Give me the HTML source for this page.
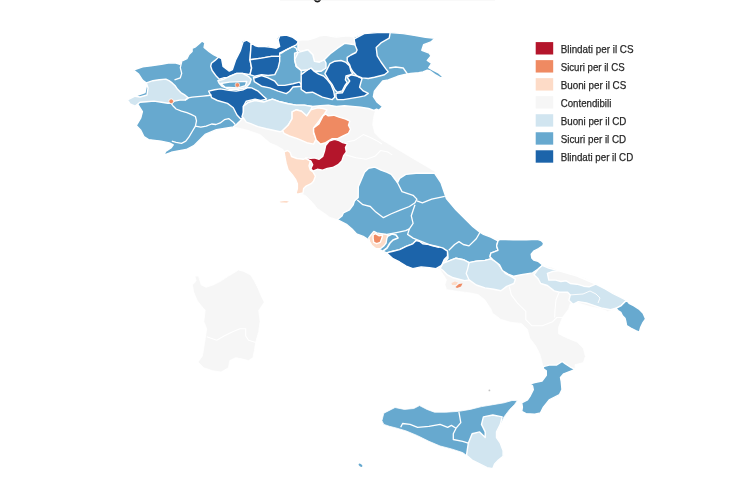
<!DOCTYPE html>
<html><head><meta charset="utf-8"><style>
html,body{margin:0;padding:0;background:#fff;width:745px;height:484px;overflow:hidden;position:relative}
svg{position:absolute;left:0;top:0;filter:blur(0.5px)}
text{font-family:"Liberation Sans",sans-serif;font-size:11.2px;fill:#262626;stroke:#262626;stroke-width:0.25px}
</style></head><body>
<svg width="745" height="484" viewBox="0 0 745 484">
<path d="M314.2,-0.8 Q317.4,4.2 320.6,-0.8" fill="none" stroke="#1a1a1a" stroke-width="1.8"/>
<rect x="280" y="0" width="215" height="1" fill="#e8e8e8" opacity="0.25"/>
<path d="M161.0,141.1 L148.6,139.6 L143.9,136.5 L140.8,130.3 L136.2,125.6 L140.8,117.9 L142.4,111.7 L137.7,104.0 L135.0,106.2 L130.0,103.8 L127.5,100.0 L135.0,96.2 L145.0,92.5 L146.9,83.4 L142.7,80.3 L138.6,74.1 L133.4,70.0 L142.7,66.9 L151.0,65.8 L161.3,64.4 L169.6,62.7 L175.8,63.1 L180.0,64.4 L180.7,61.7 L186.9,58.6 L189.0,54.4 L192.1,51.4 L192.1,48.3 L195.0,47.2 L199.1,43.7 L202.0,40.9 L204.9,43.0 L204.1,47.4 L209.2,51.7 L213.5,54.6 L218.5,57.2 L221.6,58.7 L223.1,66.5 L229.3,71.1 L232.4,69.6 L235.5,60.3 L240.2,51.0 L241.9,40.5 L245.0,39.7 L248.0,43.6 L252.7,46.7 L258.9,47.5 L268.2,45.2 L274.4,49.8 L280.6,49.0 L280.6,43.6 L276.7,39.0 L279.0,35.0 L282.7,35.1 L288.1,36.4 L293.4,38.4 L298.1,40.4 L302.8,39.8 L308.2,39.8 L313.6,38.4 L320.3,35.7 L325.6,35.1 L331.0,36.4 L336.4,37.1 L343.1,36.4 L348.5,35.7 L353.9,37.1 L364.2,33.6 L377.2,32.6 L390.2,32.6 L403.2,33.6 L414.3,35.4 L425.5,37.3 L434.8,38.2 L431.0,41.9 L423.6,44.7 L421.8,50.3 L429.2,53.1 L431.0,55.9 L427.3,60.5 L431.7,63.4 L428.8,67.7 L433.1,70.2 L438.9,73.2 L442.8,76.8 L441.1,78.0 L436.0,75.2 L430.2,71.0 L427.3,70.2 L423.0,72.0 L418.7,72.8 L410.6,73.5 L405.0,74.5 L397.6,76.3 L388.3,80.0 L382.7,81.0 L378.1,86.5 L374.4,91.2 L373.4,96.7 L377.2,102.3 L381.8,106.0 L383.0,106.2 L378.9,110.3 L375.8,109.3 L373.8,116.5 L372.7,124.8 L374.8,133.1 L381.0,139.3 L391.3,145.5 L401.7,151.7 L412.0,157.9 L422.3,164.0 L429.5,168.2 L434.7,171.3 L440.9,182.6 L446.6,198.9 L455.9,209.7 L465.2,219.0 L473.0,226.8 L479.9,232.2 L483.5,234.3 L490.8,237.2 L499.5,239.4 L513.2,239.8 L526.4,239.8 L537.4,239.3 L541.1,240.6 L543.6,243.0 L543.0,245.5 L538.6,248.6 L533.7,251.1 L531.2,254.2 L531.8,258.0 L533.7,260.0 L538.0,261.3 L542.9,265.3 L551.4,267.2 L560.8,271.0 L572.0,273.8 L585.2,278.5 L594.6,283.2 L604.0,287.9 L613.4,292.6 L620.9,298.2 L626.6,300.3 L629.1,303.3 L634.0,305.8 L639.0,309.1 L643.1,313.2 L645.6,319.0 L643.1,322.3 L640.7,327.3 L639.4,332.2 L635.7,330.6 L630.7,328.1 L626.6,325.6 L625.8,321.5 L625.0,318.2 L622.5,315.7 L620.8,312.4 L618.0,310.5 L615.3,309.5 L607.7,311.4 L600.2,308.6 L590.8,306.7 L581.4,303.9 L575.8,302.0 L570.2,303.9 L568.8,308.9 L562.6,317.2 L558.5,327.5 L558.5,333.7 L566.8,337.9 L577.1,342.0 L583.3,348.2 L585.4,356.4 L583.3,362.6 L575.0,364.7 L575.3,369.5 L569.5,371.6 L563.7,373.8 L560.5,377.5 L561.2,381.3 L562.0,389.6 L559.5,394.5 L549.2,399.9 L543.4,407.1 L540.5,412.9 L534.7,414.3 L526.0,413.6 L521.7,411.4 L522.4,407.1 L521.7,402.8 L527.5,399.9 L530.4,395.5 L533.3,389.7 L532.6,386.1 L530.4,383.9 L534.7,382.5 L542.0,381.0 L546.3,375.3 L546.3,370.9 L543.4,368.7 L542.0,362.6 L539.9,354.4 L535.8,346.1 L529.6,337.9 L527.5,329.6 L521.3,323.4 L511.0,322.4 L500.7,319.3 L492.4,313.1 L491.2,309.4 L484.5,299.5 L477.9,294.5 L469.7,292.9 L456.4,291.2 L446.5,289.6 L444.9,284.6 L446.5,279.7 L440.0,269.8 L436.0,268.6 L429.3,267.8 L421.1,266.9 L412.8,268.6 L406.2,266.1 L399.6,262.0 L393.0,258.7 L386.4,254.5 L379.8,249.6 L373.1,244.6 L368.2,239.7 L363.2,236.4 L356.6,234.7 L352.0,229.0 L347.0,224.7 L337.0,219.7 L329.6,217.2 L324.7,213.5 L317.2,208.5 L312.3,202.3 L306.0,196.0 L303.0,194.5 L297.4,194.2 L296.1,193.0 L297.4,188.6 L297.4,183.7 L295.5,179.3 L292.4,175.0 L288.1,170.0 L286.1,163.2 L284.8,156.5 L284.1,151.8 L283.4,149.8 L276.7,145.8 L270.0,143.1 L260.0,134.6 L247.8,130.3 L233.3,126.9 L216.4,129.7 L205.1,134.4 L193.8,145.7 L186.3,149.5 L171.3,152.3 L163.8,155.1 L165.6,151.4 L171.3,147.6 L173.2,144.8 L169.4,142.9Z" fill="#f6f6f6" stroke="#fff" stroke-width="0.8"/>
<path d="M193.7,292.2 L192.4,284.8 L196.2,281.1 L194.9,276.1 L198.6,276.1 L201.1,284.8 L206.1,287.3 L213.5,284.8 L220.9,281.1 L228.4,276.1 L234.6,272.4 L238.3,269.9 L243.2,271.2 L250.7,274.9 L254.4,281.1 L258.1,288.5 L261.8,297.2 L264.3,302.1 L259.3,309.6 L258.7,310.0 L260.1,321.6 L258.7,331.7 L255.8,341.8 L254.4,350.5 L252.9,357.7 L248.6,360.6 L242.8,359.1 L235.6,357.7 L229.8,360.6 L228.4,367.8 L221.1,372.1 L212.5,370.7 L203.8,367.8 L198.0,362.0 L202.3,356.2 L203.8,347.6 L205.2,338.9 L206.7,328.8 L203.8,321.6 L205.2,310.0 L202.3,307.1 L197.4,300.9Z" fill="#f6f6f6" stroke="#fff" stroke-width="0.8"/>
<path d="M381.9,420.7 L383.8,413.2 L391.3,409.4 L395.0,407.5 L404.4,409.4 L413.8,408.5 L419.5,405.6 L427.0,409.4 L434.5,412.2 L445.8,412.2 L458.9,411.3 L470.2,409.4 L481.5,406.6 L492.8,404.7 L504.0,402.8 L512.0,400.5 L517.4,400.6 L514.4,404.7 L509.7,409.4 L504.0,416.9 L500.3,424.4 L496.5,431.9 L496.5,437.6 L500.3,443.2 L503.1,450.7 L503.1,456.4 L498.4,460.1 L494.6,463.9 L492.8,468.6 L487.1,467.7 L479.6,463.9 L472.1,460.1 L466.5,455.4 L462.7,452.6 L451.4,448.9 L440.1,446.0 L428.9,441.3 L417.6,435.7 L406.3,431.0 L396.9,428.2 L389.4,426.3 L383.8,424.4Z" fill="#67a9cf" stroke="#fff" stroke-width="0.8"/>
<path d="M161.0,141.1 L148.6,139.6 L143.9,136.5 L140.8,130.3 L136.2,125.6 L140.8,117.9 L142.4,111.7 L137.7,104.0 L135.0,106.2 L130.0,103.8 L127.5,100.0 L135.0,96.2 L145.0,92.5 L146.9,83.4 L142.7,80.3 L138.6,74.1 L133.4,70.0 L142.7,66.9 L151.0,65.8 L161.3,64.4 L169.6,62.7 L175.8,63.1 L180.0,64.4 L180.7,61.7 L186.9,58.6 L189.0,54.4 L192.1,51.4 L192.1,48.3 L195.0,47.2 L199.1,43.7 L202.0,40.9 L204.9,43.0 L204.1,47.4 L209.2,51.7 L213.5,54.6 L218.5,57.2 L221.6,58.7 L223.1,66.5 L229.3,71.1 L232.4,69.6 L235.5,60.3 L240.2,51.0 L241.9,40.5 L245.0,39.7 L248.0,43.6 L252.7,46.7 L258.9,47.5 L268.2,45.2 L274.4,49.8 L280.6,49.0 L280.6,43.6 L276.7,39.0 L279.0,35.0 L282.7,35.1 L288.1,36.4 L293.4,38.4 L298.1,40.4 L302.8,39.8 L308.2,39.8 L313.6,38.4 L320.3,35.7 L325.6,35.1 L331.0,36.4 L336.4,37.1 L343.1,36.4 L348.5,35.7 L353.9,37.1 L364.2,33.6 L377.2,32.6 L390.2,32.6 L403.2,33.6 L414.3,35.4 L425.5,37.3 L434.8,38.2 L431.0,41.9 L423.6,44.7 L421.8,50.3 L429.2,53.1 L431.0,55.9 L427.3,60.5 L431.7,63.4 L428.8,67.7 L433.1,70.2 L438.9,73.2 L442.8,76.8 L441.1,78.0 L436.0,75.2 L430.2,71.0 L427.3,70.2 L423.0,72.0 L418.7,72.8 L410.6,73.5 L405.0,74.5 L397.6,76.3 L388.3,80.0 L382.7,81.0 L378.1,86.5 L374.4,91.2 L373.4,96.7 L377.2,102.3 L381.8,106.0 L383.0,106.2 L378.9,110.3 L376.6,109.2 L374.0,110.5 L368.6,108.5 L360.5,107.1 L352.5,106.5 L344.4,105.8 L336.4,106.5 L328.3,105.1 L320.3,105.8 L312.2,106.5 L304.2,105.1 L296.1,105.1 L288.1,103.8 L280.0,101.8 L272.4,99.1 L263.7,102.0 L255.0,100.5 L247.8,102.7 L243.4,106.3 L243.4,112.1 L242.0,116.4 L241.6,119.4 L236.9,124.1 L233.3,126.9 L216.4,129.7 L205.1,134.4 L193.8,145.7 L186.3,149.5 L171.3,152.3 L163.8,155.1 L165.6,151.4 L171.3,147.6 L173.2,144.8 L169.4,142.9Z" fill="#67a9cf" stroke="#fff" stroke-width="1.4" stroke-linejoin="round"/>
<path d="M127.5,100.0 L135.0,96.2 L140.0,97.0 L147.0,95.0 L148.0,88.0 L146.4,82.9 L152.9,80.7 L159.3,79.7 L165.8,79.1 L169.0,80.7 L172.2,82.9 L175.4,86.1 L177.6,89.3 L180.8,92.6 L185.1,95.2 L188.3,97.9 L185.1,100.1 L179.7,100.1 L174.4,101.1 L171.1,103.3 L167.9,103.3 L161.5,102.2 L154.0,101.1 L146.4,101.7 L140.0,102.2 L135.0,106.2 L130.0,103.8Z" fill="#d1e5f0" stroke="#fff" stroke-width="1.4" stroke-linejoin="round"/>
<path d="M211.4,63.3 L215.0,60.4 L218.5,57.2 L221.6,58.7 L223.1,66.5 L229.3,71.1 L232.4,69.6 L235.5,60.3 L240.2,51.0 L243.2,41.6 L246.8,40.1 L251.2,43.0 L250.0,59.8 L251.6,68.0 L250.0,74.6 L246.0,74.0 L242.5,73.4 L236.7,73.4 L229.5,76.3 L228.0,77.8 L223.7,77.8 L219.3,79.2 L216.4,76.3 L212.1,70.5 L210.7,66.2Z" fill="#1c64aa" stroke="#fff" stroke-width="1.4" stroke-linejoin="round"/>
<path d="M251.2,43.0 L255.5,45.9 L258.2,46.5 L264.8,46.5 L271.4,47.4 L276.4,48.2 L279.7,46.5 L278.1,39.9 L279.7,35.8 L286.3,35.0 L292.9,37.4 L298.7,41.6 L296.2,44.9 L289.6,48.2 L283.0,51.5 L279.7,53.1 L279.7,56.4 L271.4,56.4 L261.5,58.1 L250.0,59.8Z" fill="#1c64aa" stroke="#fff" stroke-width="1.4" stroke-linejoin="round"/>
<path d="M250.0,59.8 L261.5,58.1 L271.4,56.4 L279.7,56.4 L279.7,61.4 L278.1,68.0 L274.8,74.6 L268.1,75.5 L261.5,74.6 L254.9,76.3 L250.0,74.6 L251.6,68.0Z" fill="#1c64aa" stroke="#fff" stroke-width="1.4" stroke-linejoin="round"/>
<path d="M208.7,91.1 L214.5,89.7 L220.3,88.9 L228.9,90.4 L236.2,91.1 L243.4,89.7 L247.8,87.5 L251.6,87.9 L258.2,91.2 L263.2,96.1 L266.6,99.1 L260.8,100.5 L255.0,99.1 L246.3,101.2 L243.4,106.3 L243.4,112.1 L243.5,117.5 L240.5,118.8 L237.0,115.0 L233.3,107.8 L227.5,103.4 L217.4,100.5 L211.6,97.6 L210.1,94.0Z" fill="#1c64aa" stroke="#fff" stroke-width="1.4" stroke-linejoin="round"/>
<path d="M217.9,80.7 L223.7,79.2 L229.5,76.3 L236.7,73.4 L242.5,73.4 L248.3,76.3 L251.2,79.2 L249.7,83.5 L245.4,87.9 L238.1,89.3 L229.5,89.3 L222.2,86.4 L219.3,83.5Z" fill="#d1e5f0" stroke="#fff" stroke-width="1.4" stroke-linejoin="round"/>
<path d="M220.8,83.5 L229.5,82.1 L246.8,81.4 L245.4,85.7 L238.1,87.9 L225.1,87.2Z" fill="#67a9cf" stroke="#fff" stroke-width="1.4" stroke-linejoin="round"/>
<path d="M253.5,77.4 L254.9,77.9 L261.5,75.5 L268.1,77.9 L274.8,81.2 L278.1,85.4 L284.7,85.4 L293.0,83.7 L299.5,82.1 L301.2,84.5 L301.2,86.2 L293.0,87.0 L289.6,91.2 L286.3,93.6 L278.1,91.2 L269.8,87.9 L261.5,86.2 L254.3,81.7Z" fill="#1c64aa" stroke="#fff" stroke-width="1.4" stroke-linejoin="round"/>
<path d="M301.2,74.6 L307.8,69.7 L311.1,68.0 L314.4,71.3 L318.7,74.2 L323.6,76.0 L327.4,79.8 L331.1,84.7 L333.6,90.9 L334.8,97.1 L332.3,99.6 L327.4,98.4 L322.4,97.1 L317.4,94.7 L312.5,92.2 L306.2,92.8 L301.2,89.5 L301.2,84.5Z" fill="#1c64aa" stroke="#fff" stroke-width="1.4" stroke-linejoin="round"/>
<path d="M324.9,73.6 L327.4,68.6 L329.9,63.6 L334.8,61.2 L341.0,60.5 L346.0,62.4 L349.7,66.1 L350.9,71.1 L352.8,73.6 L349.7,74.8 L346.0,76.0 L345.4,79.8 L347.2,82.3 L344.7,86.0 L342.3,90.9 L337.3,92.2 L334.8,89.7 L332.3,84.7 L328.6,79.8Z" fill="#1c64aa" stroke="#fff" stroke-width="1.4" stroke-linejoin="round"/>
<path d="M336.0,93.4 L342.3,92.8 L346.0,86.0 L349.7,81.0 L347.2,77.3 L350.9,74.8 L357.1,76.0 L362.1,78.5 L360.9,82.3 L359.6,87.2 L363.3,90.9 L368.3,93.4 L364.6,95.9 L358.4,97.1 L350.9,98.4 L343.5,99.6 L337.3,99.6 L336.0,97.1Z" fill="#1c64aa" stroke="#fff" stroke-width="1.4" stroke-linejoin="round"/>
<path d="M353.9,39.1 L364.2,33.6 L377.2,32.6 L390.2,32.6 L389.2,38.2 L380.9,42.9 L376.2,47.5 L377.2,55.9 L381.0,62.0 L385.7,68.6 L388.2,71.7 L384.4,74.8 L379.5,76.0 L374.5,77.3 L368.3,78.5 L362.1,77.9 L357.1,76.0 L353.4,72.3 L350.9,68.6 L349.7,64.9 L347.2,61.2 L347.2,57.4 L350.9,55.0 L355.9,52.5 L357.1,50.0 L354.9,44.7Z" fill="#1c64aa" stroke="#fff" stroke-width="1.4" stroke-linejoin="round"/>
<path d="M298.1,40.4 L302.8,39.8 L308.2,39.8 L313.6,38.4 L320.3,35.7 L325.6,35.1 L331.0,36.4 L336.4,37.1 L343.1,36.4 L348.5,35.7 L353.9,37.1 L354.9,44.7 L345.0,43.2 L337.6,48.2 L331.0,53.1 L326.0,58.1 L324.3,59.8 L319.4,62.2 L314.4,61.4 L312.8,54.8 L307.8,49.8 L301.2,51.5 L297.9,49.8 L297.9,45.7Z" fill="#f6f6f6" stroke="#fff" stroke-width="1.4" stroke-linejoin="round"/>
<path d="M294.6,53.1 L301.2,51.5 L307.8,49.8 L312.8,54.8 L314.4,61.4 L319.4,62.2 L324.3,59.8 L326.0,63.1 L326.0,68.0 L321.0,71.3 L314.4,71.3 L311.1,68.0 L307.8,69.7 L301.2,70.5 L296.2,66.4 L294.6,59.8Z" fill="#d1e5f0" stroke="#fff" stroke-width="1.4" stroke-linejoin="round"/>
<path d="M243.4,106.3 L247.8,102.7 L255.0,100.5 L263.7,102.0 L272.4,99.1 L280.0,101.8 L288.1,103.8 L296.1,105.1 L304.2,105.1 L312.2,106.5 L310.9,109.8 L306.8,115.9 L301.5,111.2 L296.1,109.8 L292.1,111.8 L292.1,118.6 L288.1,125.3 L282.7,130.6 L280.0,131.8 L266.3,128.7 L257.9,126.6 L250.7,123.7 L246.3,122.2 L243.4,117.9 L242.0,116.4 L243.4,112.1Z" fill="#d1e5f0" stroke="#fff" stroke-width="1.4" stroke-linejoin="round"/>
<path d="M292.1,111.8 L296.1,109.8 L301.5,111.2 L306.8,115.9 L310.9,109.8 L317.6,107.8 L323.0,108.5 L327.0,109.8 L324.3,113.9 L321.6,117.2 L318.9,121.2 L313.6,128.0 L313.6,133.3 L316.2,138.7 L313.6,144.1 L306.8,142.7 L297.4,138.7 L289.4,136.0 L284.0,133.3 L282.7,130.6 L288.1,125.3 L292.1,118.6Z" fill="#fddbc7" stroke="#fff" stroke-width="1.4" stroke-linejoin="round"/>
<path d="M313.6,128.0 L318.9,123.9 L323.0,115.9 L325.6,113.9 L328.3,115.9 L333.7,115.2 L339.1,117.2 L345.8,119.2 L349.8,121.2 L348.5,125.3 L350.5,129.3 L348.5,133.3 L343.1,136.0 L337.7,138.7 L332.3,138.7 L325.6,142.7 L320.3,144.1 L316.2,140.0 L314.9,136.0 L313.6,132.0Z" fill="#ef8a62" stroke="#fff" stroke-width="1.4" stroke-linejoin="round"/>
<path d="M305.5,157.9 L310.9,158.4 L314.5,157.9 L319.1,159.3 L322.7,156.5 L324.5,151.1 L325.6,145.6 L329.0,141.2 L334.5,139.3 L339.1,140.6 L342.7,142.6 L347.3,143.8 L345.5,147.5 L346.4,152.0 L343.6,155.6 L341.8,161.1 L338.2,164.7 L332.7,167.5 L327.3,168.4 L322.7,170.2 L317.3,169.3 L312.7,171.1 L310.9,168.4 L312.7,164.7 L310.9,161.1 L307.3,159.3Z" fill="#b4152b" stroke="#fff" stroke-width="1.4" stroke-linejoin="round"/>
<path d="M284.1,151.8 L287.5,150.5 L290.2,152.5 L291.5,156.5 L296.9,158.5 L303.6,159.2 L305.6,158.5 L310.3,161.2 L309.0,165.9 L310.3,170.0 L313.0,172.0 L315.4,176.2 L313.5,181.2 L311.1,183.7 L306.1,186.1 L303.6,188.6 L303.0,193.0 L297.4,194.2 L296.1,193.0 L297.4,188.6 L297.4,183.7 L295.5,179.3 L292.4,175.0 L288.1,170.0 L286.1,163.2 L284.8,156.5Z" fill="#fddbc7" stroke="#fff" stroke-width="1.4" stroke-linejoin="round"/>
<path d="M279.0,201.0 L286.0,200.0 L291.0,201.5 L287.0,203.5 L280.0,203.0Z" fill="#fddbc7" stroke="#fff" stroke-width="1.4" stroke-linejoin="round"/>
<path d="M337.3,219.7 L342.0,216.0 L343.3,212.9 L349.5,209.8 L353.2,204.8 L354.4,201.1 L358.2,197.4 L358.3,186.8 L364.5,172.3 L368.6,168.2 L374.8,167.1 L381.0,170.2 L387.2,172.3 L391.3,174.4 L394.4,178.5 L397.5,182.6 L399.6,178.5 L405.8,174.4 L416.1,173.3 L426.4,173.3 L434.7,173.3 L440.9,182.6 L446.6,198.9 L455.9,209.7 L465.2,219.0 L473.0,226.8 L479.9,232.2 L483.5,234.3 L490.8,237.2 L498.0,240.9 L496.6,245.9 L498.0,250.3 L490.8,253.2 L490.0,256.8 L493.7,260.4 L496.6,261.8 L490.8,258.9 L485.0,260.4 L476.3,261.1 L469.1,262.6 L463.3,259.7 L456.0,258.2 L450.3,260.4 L443.0,263.3 L444.5,263.3 L448.1,258.2 L447.4,251.7 L443.0,248.8 L435.8,246.6 L430.0,247.4 L422.7,243.8 L419.4,241.3 L416.1,240.5 L412.8,243.8 L406.2,246.3 L399.6,249.6 L393.0,251.2 L386.4,252.9 L379.8,249.6 L373.1,244.6 L368.2,239.7 L363.2,236.4 L356.6,234.0 L352.0,229.0 L347.0,224.7Z" fill="#67a9cf" stroke="#fff" stroke-width="1.4" stroke-linejoin="round"/>
<path d="M368.7,237.9 L370.9,235.0 L373.8,231.4 L376.7,232.9 L381.0,233.6 L385.4,234.3 L388.3,235.0 L386.8,238.6 L386.1,243.0 L383.9,245.9 L380.3,248.8 L376.0,248.8 L371.6,245.2 L369.5,241.5Z" fill="#fddbc7" stroke="#fff" stroke-width="1.4" stroke-linejoin="round"/>
<path d="M373.1,235.0 L375.3,233.6 L378.9,235.7 L382.5,235.0 L381.8,238.6 L380.3,242.3 L376.7,243.7 L373.8,242.3 L373.1,238.6Z" fill="#ef8a62" stroke="#fff" stroke-width="1.4" stroke-linejoin="round"/>
<path d="M386.4,252.9 L393.0,251.2 L399.6,249.6 L406.2,246.3 L412.8,243.8 L416.1,240.5 L419.4,241.3 L422.7,243.8 L429.3,244.6 L436.0,246.3 L442.6,247.9 L447.5,251.2 L447.5,256.2 L444.2,259.5 L441.7,265.3 L436.0,268.6 L429.3,267.8 L421.1,266.9 L412.8,268.6 L406.2,266.1 L399.6,262.0 L393.0,258.7Z" fill="#1c64aa" stroke="#fff" stroke-width="1.4" stroke-linejoin="round"/>
<path d="M443.0,263.3 L450.3,260.4 L456.0,258.2 L463.3,259.7 L469.1,262.6 L476.3,261.1 L485.0,260.4 L490.8,258.9 L496.6,261.8 L500.9,267.6 L505.3,273.4 L511.0,276.3 L515.4,279.2 L513.9,283.5 L506.7,286.4 L500.9,290.8 L493.7,289.3 L485.0,287.9 L476.3,285.0 L469.1,279.9 L464.7,280.6 L458.9,279.2 L453.2,277.8 L447.4,274.9 L443.0,270.5 L440.1,268.4Z" fill="#d1e5f0" stroke="#fff" stroke-width="1.4" stroke-linejoin="round"/>
<path d="M498.0,240.9 L499.5,239.4 L513.2,239.8 L526.4,239.8 L537.4,239.3 L541.1,240.6 L543.6,243.0 L543.0,245.5 L538.6,248.6 L533.7,251.1 L531.2,254.2 L531.8,258.0 L533.7,260.0 L538.0,261.3 L542.9,265.3 L538.2,269.1 L532.6,272.9 L521.3,274.7 L513.9,276.3 L508.1,274.1 L502.4,270.5 L499.5,264.7 L493.7,260.4 L490.0,256.8 L490.8,253.2 L498.0,250.3 L496.6,245.9Z" fill="#67a9cf" stroke="#fff" stroke-width="1.4" stroke-linejoin="round"/>
<path d="M542.1,265.4 L548.8,268.1 L558.2,270.7 L567.6,273.4 L577.0,276.1 L586.4,280.1 L595.8,284.2 L605.2,288.9 L613.2,293.6 L621.3,297.6 L626.6,300.3 L621.3,305.6 L615.9,308.3 L610.5,309.7 L602.5,308.3 L594.4,305.6 L586.4,303.0 L578.3,301.6 L573.0,304.3 L568.9,300.3 L570.3,294.9 L567.6,292.2 L559.5,292.2 L554.2,290.9 L547.4,285.5 L540.7,283.5 L538.1,278.8 L534.0,274.8 L538.2,269.1Z" fill="#d1e5f0" stroke="#fff" stroke-width="1.4" stroke-linejoin="round"/>
<path d="M547.4,273.4 L552.8,271.4 L558.2,270.7 L567.6,273.4 L577.0,276.1 L586.4,280.1 L595.8,284.2 L589.1,286.8 L583.7,286.2 L577.0,284.2 L570.3,283.5 L566.2,280.8 L560.9,281.5 L555.5,280.1 L548.8,280.1Z" fill="#f6f6f6" stroke="#fff" stroke-width="1.4" stroke-linejoin="round"/>
<path d="M615.9,308.3 L621.3,305.6 L626.6,300.3 L629.1,303.3 L634.0,305.8 L639.0,309.1 L643.1,313.2 L645.6,319.0 L643.1,322.3 L640.7,327.3 L639.4,332.2 L635.7,330.6 L630.7,328.1 L626.6,325.6 L625.8,321.5 L625.0,318.2 L622.5,315.7 L620.8,312.4 L618.0,310.5Z" fill="#67a9cf" stroke="#fff" stroke-width="1.4" stroke-linejoin="round"/>
<path d="M543.4,366.6 L549.2,365.1 L556.4,365.1 L562.2,361.5 L565.1,363.7 L570.9,367.3 L575.3,369.5 L569.5,371.6 L563.7,373.8 L560.5,377.5 L561.2,381.3 L562.0,389.6 L559.5,394.5 L549.2,399.9 L543.4,407.1 L540.5,412.9 L534.7,414.3 L526.0,413.6 L521.7,411.4 L522.4,407.1 L521.7,402.8 L527.5,399.9 L530.4,395.5 L533.3,389.7 L532.6,386.1 L530.4,383.9 L534.7,382.5 L542.0,381.0 L546.3,375.3 L546.3,370.9 L543.4,368.7Z" fill="#67a9cf" stroke="#fff" stroke-width="1.4" stroke-linejoin="round"/>
<path d="M466.5,455.4 L468.3,443.2 L472.1,433.8 L479.6,431.9 L485.2,437.6 L485.2,431.9 L481.5,424.4 L483.4,416.9 L492.8,415.0 L502.2,416.9 L500.3,424.4 L496.5,431.9 L496.5,437.6 L500.3,443.2 L503.1,450.7 L503.1,456.4 L498.4,460.1 L494.6,463.9 L492.8,468.6 L487.1,467.7 L479.6,463.9 L472.1,460.1Z" fill="#d1e5f0" stroke="#fff" stroke-width="1.4" stroke-linejoin="round"/>
<path d="M171.1,103.3 L172.9,105.7 L176.1,109.0 L181.5,111.1 L186.9,112.7 L191.1,114.3 L195.4,116.5 L196.5,120.8 L195.4,126.1 L192.2,131.5 L189.0,136.9 L185.8,141.2 L181.5,143.3 L176.1,142.3 L171.8,141.2" fill="none" stroke="#fff" stroke-width="1.3" stroke-linejoin="round"/>
<path d="M195.4,126.1 L200.8,127.2 L206.2,126.1 L211.6,124.0 L215.9,124.5 L220.2,122.9 L224.4,119.7 L228.7,118.6 L233.0,121.9 L235.2,124.5" fill="none" stroke="#fff" stroke-width="1.3" stroke-linejoin="round"/>
<path d="M185.1,100.1 L188.3,97.9 L192.2,97.1 L197.6,96.6 L203.0,96.1 L208.3,95.5 L211.6,95.0" fill="none" stroke="#fff" stroke-width="1.3" stroke-linejoin="round"/>
<path d="M181.7,61.8 L180.3,67.6 L181.7,73.4 L180.3,77.8 L174.5,79.9" fill="none" stroke="#fff" stroke-width="1.3" stroke-linejoin="round"/>
<path d="M279.7,53.1 L281.4,53.1 L286.3,49.8 L292.9,46.5 L296.2,48.2 L297.9,53.1 L294.6,59.8 L296.2,66.4 L301.2,70.5 L301.2,74.6" fill="none" stroke="#fff" stroke-width="1.3" stroke-linejoin="round"/>
<path d="M389.2,68.0 L395.7,67.0 L403.2,68.0 L407.8,74.5" fill="none" stroke="#fff" stroke-width="1.3" stroke-linejoin="round"/>
<path d="M357.3,200.0 L362.9,204.7 L370.3,206.5 L375.9,212.1 L383.4,217.7 L390.8,214.0 L400.1,210.2 L409.4,206.5 L415.0,202.8 L416.9,199.1 L413.1,195.3 L402.0,191.6 L398.3,184.2 L396.4,180.5" fill="none" stroke="#fff" stroke-width="1.3" stroke-linejoin="round"/>
<path d="M416.9,200.9 L422.4,202.8 L431.7,199.1 L444.8,196.3" fill="none" stroke="#fff" stroke-width="1.3" stroke-linejoin="round"/>
<path d="M415.0,204.7 L413.1,210.2 L411.3,215.8 L413.1,223.3 L409.4,228.8 L407.6,234.4 L413.1,238.1 L422.4,241.9 L431.7,245.6 L439.2,247.4" fill="none" stroke="#fff" stroke-width="1.3" stroke-linejoin="round"/>
<path d="M387.1,234.4 L396.4,232.6 L405.7,230.7 L409.4,228.8" fill="none" stroke="#fff" stroke-width="1.3" stroke-linejoin="round"/>
<path d="M388.0,236.0 L392.0,234.0 L396.0,235.0 L398.0,238.0 L393.0,240.0 L390.0,243.0 L387.0,248.0 L383.0,251.0" fill="none" stroke="#fff" stroke-width="1.6" stroke-linejoin="round"/>
<path d="M469.1,262.6 L467.6,269.1 L466.2,273.4 L469.1,279.9" fill="none" stroke="#fff" stroke-width="1.3" stroke-linejoin="round"/>
<path d="M570.3,294.9 L583.0,294.0 L590.0,291.0 L596.0,294.0 L600.0,298.0 L598.0,303.0" fill="none" stroke="#fff" stroke-width="0.9" stroke-linejoin="round"/>
<path d="M400.7,427.3 L402.6,423.5 L410.1,424.4 L417.6,427.3 L428.9,426.3 L440.1,424.4 L447.7,427.3 L451.4,425.4 L456.1,428.2 L460.8,422.6 L458.9,411.8" fill="none" stroke="#fff" stroke-width="1.3" stroke-linejoin="round"/>
<path d="M456.1,428.2 L453.3,433.8 L453.3,439.5 L462.7,441.3 L468.3,443.2" fill="none" stroke="#fff" stroke-width="1.3" stroke-linejoin="round"/>
<path d="M206.7,336.7 L216.8,340.3 L224.0,336.0 L232.7,331.7 L239.9,328.8 L245.7,328.8 L245.7,336.0 L248.6,340.3 L255.8,342.5" fill="none" stroke="#fff" stroke-width="1.1" stroke-linejoin="round"/>
<path d="M509.3,286.5 L511.3,294.8 L517.5,303.1 L525.8,311.3 L525.8,319.6 L532.0,325.8 L542.3,325.8 L552.6,321.7 L556.8,317.5 L565.0,317.5" fill="none" stroke="#fff" stroke-width="1.1" stroke-linejoin="round"/>
<path d="M558.8,292.7 L556.0,300.0 L555.0,310.0 L554.7,317.5" fill="none" stroke="#fff" stroke-width="1.1" stroke-linejoin="round"/>
<path d="M347.4,141.8 L354.6,140.4 L363.3,134.6 L370.5,137.5 L376.3,140.4 L382.0,144.0" fill="none" stroke="#fff" stroke-width="1.1" stroke-linejoin="round"/>
<path d="M345.9,154.9 L356.0,157.8 L366.2,159.2 L374.9,156.3 L380.7,150.5 L387.9,152.0 L392.2,154.9" fill="none" stroke="#fff" stroke-width="1.1" stroke-linejoin="round"/>
<path d="M480.0,232.2 L476.3,238.7 L469.0,245.9 L463.3,244.5 L459.0,241.6 L454.6,244.5 L448.8,250.3" fill="none" stroke="#fff" stroke-width="1.3" stroke-linejoin="round"/>
<ellipse cx="360.5" cy="465.3" rx="2.2" ry="1.2" transform="rotate(35 360.5 465.3)" fill="#67a9cf"/>
<circle cx="489.4" cy="390.4" r="0.9" fill="#999" opacity="0.6"/>
<path d="M451.5,283 L455,281.5 L458,282.5 L456,285 L452,285Z" fill="#fddbc7"/>
<path d="M455.5,287 L459,284 L462.5,283.5 L461,286.5 L457,288Z" fill="#ef8a62"/>
<circle cx="171.2" cy="101.3" r="2.4" fill="#ef8a62" stroke="#fff" stroke-width="0.8"/>
<circle cx="237.4" cy="85" r="2.3" fill="#ef8a62" stroke="#fff" stroke-width="0.6"/>
<rect x="535.7" y="42.10" width="17.5" height="12.4" fill="#b4152b"/>
<text x="560.7" y="52.60" textLength="72.8" lengthAdjust="spacingAndGlyphs">Blindati per il CS</text>
<rect x="535.7" y="60.13" width="17.5" height="12.4" fill="#ef8a62"/>
<text x="560.7" y="70.63" textLength="63.9" lengthAdjust="spacingAndGlyphs">Sicuri per il CS</text>
<rect x="535.7" y="78.16" width="17.5" height="12.4" fill="#fddbc7"/>
<text x="560.7" y="88.66" textLength="65.5" lengthAdjust="spacingAndGlyphs">Buoni per il CS</text>
<rect x="535.7" y="96.19" width="17.5" height="12.4" fill="#f6f6f6"/>
<text x="560.7" y="106.69" textLength="50.6" lengthAdjust="spacingAndGlyphs">Contendibili</text>
<rect x="535.7" y="114.22" width="17.5" height="12.4" fill="#d1e5f0"/>
<text x="560.7" y="124.72" textLength="65.7" lengthAdjust="spacingAndGlyphs">Buoni per il CD</text>
<rect x="535.7" y="132.25" width="17.5" height="12.4" fill="#67a9cf"/>
<text x="560.7" y="142.75" textLength="65.5" lengthAdjust="spacingAndGlyphs">Sicuri per il CD</text>
<rect x="535.7" y="150.28" width="17.5" height="12.4" fill="#1c64aa"/>
<text x="560.7" y="160.78" textLength="72.5" lengthAdjust="spacingAndGlyphs">Blindati per il CD</text>
</svg>
</body></html>
